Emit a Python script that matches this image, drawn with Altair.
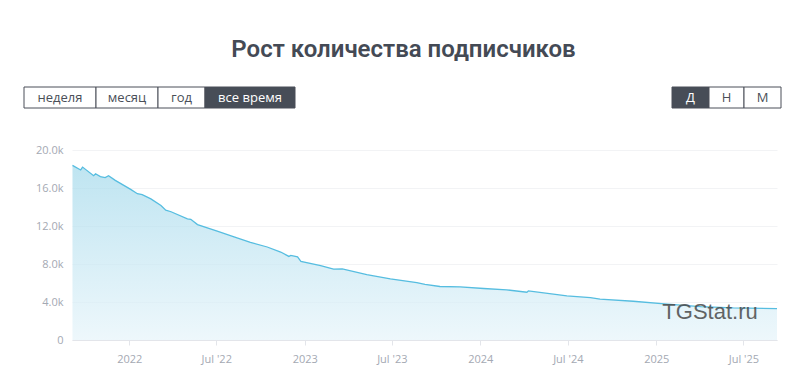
import altair as alt
import pandas as pd

# ---- data ----
DATES = [
    "2021-09-05", "2021-09-22", "2021-09-26", "2021-10-19", "2021-10-23",
    "2021-11-02", "2021-11-12", "2021-11-19", "2021-12-03", "2022-01-04",
    "2022-01-18", "2022-01-28", "2022-02-15", "2022-03-08", "2022-03-18",
    "2022-03-29", "2022-05-02", "2022-05-09", "2022-05-23", "2022-07-03",
    "2022-08-07", "2022-09-10", "2022-10-15", "2022-11-12", "2022-11-29",
    "2022-12-03", "2022-12-17", "2022-12-24", "2023-02-03", "2023-03-02",
    "2023-03-20", "2023-05-10", "2023-06-28", "2023-08-22", "2023-09-08",
    "2023-10-09", "2023-11-20", "2024-01-08", "2024-02-25", "2024-04-07",
    "2024-04-10", "2024-06-01", "2024-06-29", "2024-08-17", "2024-09-06",
    "2024-11-14", "2025-01-24", "2025-04-03", "2025-06-10", "2025-09-09",
]
SUBSCRIBERS = [
    18380, 17900, 18200, 17300, 17500,
    17200, 17100, 17300, 16800, 15850,
    15400, 15300, 14850, 14150, 13660,
    13500, 12750, 12700, 12150, 11450,
    10850, 10280, 9790, 9260, 8800,
    8900, 8750, 8270, 7820, 7470,
    7480, 6870, 6440, 6050, 5850,
    5630, 5600, 5420, 5280, 5030,
    5170, 4820, 4650, 4470, 4300,
    4080, 3770, 3520, 3380, 3310,
]
Y_TICKS = [0, 4000, 8000, 12000, 16000, 20000]
X_TICKS = [(2022, 1), (2022, 7), (2023, 1), (2023, 7), (2024, 1), (2024, 7), (2025, 1), (2025, 7)]

TITLE = "Рост количества подписчиков"
PERIOD_BUTTONS = ["неделя", "месяц", "год", "все время"]
PERIOD_SELECTED = "все время"
SCALE_BUTTONS = ["Д", "Н", "М"]
SCALE_SELECTED = "Д"
WATERMARK = "TGStat.ru"

# ---- layout (pixels, relative to the plot area) ----
PERIOD_EDGES = [-48, 24, 86, 133, 223]
SCALE_EDGES = [600, 637, 672, 709]

df = pd.DataFrame({"date": DATES, "subs": SUBSCRIBERS})

rows = []
for labels, edges, sel in ((PERIOD_BUTTONS, PERIOD_EDGES, PERIOD_SELECTED),
                           (SCALE_BUTTONS, SCALE_EDGES, SCALE_SELECTED)):
    for i, lab in enumerate(labels):
        rows.append({"label": lab, "x0": edges[i], "x1": edges[i + 1],
                     "xm": (edges[i] + edges[i + 1]) / 2, "sel": lab == sel})
buttons = pd.DataFrame(rows)

FONT = "Open Sans"
LABEL_COLOR = "#a4a9b3"

x_values = [alt.DateTime(year=y, month=m, date=1, utc=True) for y, m in X_TICKS]

area = alt.Chart(df).mark_area(
    color=alt.Gradient(
        gradient="linear",
        stops=[alt.GradientStop(color="#a3d9eb", offset=0),
               alt.GradientStop(color="#e6f4fa", offset=1)],
        x1=1, x2=1, y1=0, y2=1,
    ),
    line={"color": "#56bde0", "strokeWidth": 1.3},
).encode(
    x=alt.X("date:T",
            scale=alt.Scale(type="utc", nice=False,
                            domain=[alt.DateTime(year=2021, month=9, date=4, utc=True),
                                    alt.DateTime(year=2025, month=9, date=9, utc=True)]),
            axis=alt.Axis(values=x_values, title=None, grid=False,
                          labelExpr="utcmonth(datum.value) == 0 ? utcFormat(datum.value, '%Y') : \"Jul '\" + utcFormat(datum.value, '%y')",
                          domainColor="#e3e5ea", tickColor="#e3e5ea", tickSize=5,
                          labelColor=LABEL_COLOR, labelFontSize=11, labelFont=FONT,
                          labelPadding=8)),
    y=alt.Y("subs:Q",
            scale=alt.Scale(domain=[0, 20000], nice=False),
            axis=alt.Axis(values=Y_TICKS, title=None, domain=False, ticks=False,
                          gridColor="#f2f3f5", labelPadding=9,
                          labelExpr="datum.value == 0 ? '0' : format(datum.value / 1000, '.1f') + 'k'",
                          labelColor=LABEL_COLOR, labelFontSize=11, labelFont=FONT)),
)

watermark = alt.Chart(pd.DataFrame({"t": [WATERMARK]})).mark_text(
    font="Liberation Sans", fontSize=22, color="#4a4a4a", opacity=0.85,
    align="center", baseline="alphabetic",
).encode(text="t:N", x=alt.value(638), y=alt.value(169))

btn_rect = alt.Chart(buttons).mark_rect(stroke="#4a4f58", strokeWidth=1).encode(
    x=alt.X("x0:Q", scale=None, axis=None),
    x2="x1:Q",
    y=alt.value(-63),
    y2=alt.value(-42),
    fill=alt.condition("datum.sel", alt.value("#474d57"), alt.value("#ffffff")),
)
btn_text = alt.Chart(buttons).mark_text(
    font=FONT, fontSize=13, align="center", baseline="middle",
).encode(
    x=alt.X("xm:Q", scale=None, axis=None),
    y=alt.value(-52),
    text="label:N",
    color=alt.condition("datum.sel", alt.value("#ffffff"), alt.value("#4a4f58")),
)

chart = alt.layer(area, watermark, btn_rect, btn_text).resolve_scale(
    x="independent", y="independent"
).properties(
    width=705,
    height=190,
    autosize=alt.AutoSizeParams(type="none"),
    padding={"left": 64, "top": 142, "right": 16, "bottom": 37},
    title=alt.TitleParams(TITLE, anchor="middle", dx=-21, offset=25, fontSize=24,
                          font="Roboto", fontWeight=600, color="#444a55"),
).configure_view(stroke=None)

chart.save("out.html", embed_options={"renderer": "svg", "actions": False})
